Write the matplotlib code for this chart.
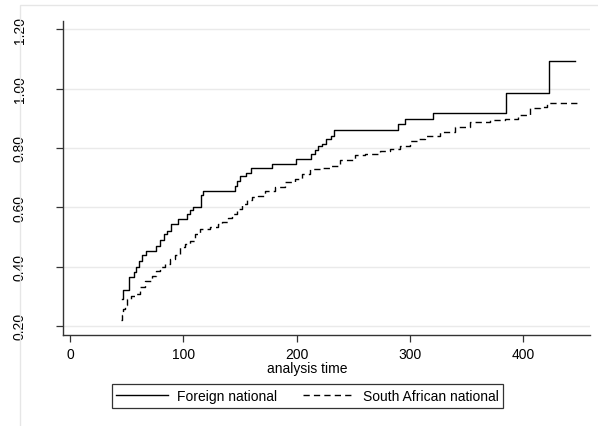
import matplotlib.pyplot as plt
from matplotlib.patches import Rectangle

plt.rcParams['font.family'] = ['Liberation Sans', 'DejaVu Sans']

# Kaplan-Meier style step curves: time where the estimate changes, value from then on
foreign_t = [45.9, 46.8, 52.1, 56.5, 58.3, 61.0, 63.6, 67.1, 76.0, 79.5, 83.0, 85.7,
             89.2, 95.4, 103.4, 106.0, 108.7, 115.7, 117.5, 145.8, 147.5, 150.2,
             155.5, 159.9, 178.4, 199.6, 212.9, 216.4, 219.0, 222.6, 226.1, 230.6,
             233.2, 289.8, 296.0, 320.7, 385.2, 423.1]
foreign_v = [0.29, 0.32, 0.364, 0.38, 0.40, 0.42, 0.44, 0.452, 0.47, 0.49, 0.51, 0.52,
             0.543, 0.56, 0.577, 0.59, 0.601, 0.641, 0.655, 0.672, 0.689, 0.706,
             0.715, 0.731, 0.745, 0.762, 0.779, 0.793, 0.807, 0.813, 0.830, 0.841,
             0.861, 0.880, 0.897, 0.917, 0.985, 1.094]
foreign_end = 446.1

sa_t = [45.0, 46.0, 46.8, 48.6, 50.4, 53.9, 57.4, 61.8, 66.3, 72.4, 76.0, 79.5, 83.9,
        88.3, 92.8, 97.2, 101.6, 106.0, 110.4, 114.8, 123.7, 130.7, 134.3, 139.6,
        143.1, 147.5, 151.9, 156.4, 160.8, 166.1, 172.3, 181.1, 189.9, 198.8, 205.0,
        212.0, 222.6, 229.7, 238.5, 251.8, 260.6, 273.9, 282.7, 291.5, 300.4, 307.4,
        313.6, 326.9, 340.1, 353.4, 371.0, 384.3, 395.8, 406.4, 415.2, 421.4]
sa_v = [0.22, 0.235, 0.256, 0.27, 0.29, 0.30, 0.307, 0.33, 0.352, 0.369, 0.385, 0.398,
        0.41, 0.425, 0.44, 0.465, 0.475, 0.487, 0.51, 0.526, 0.533, 0.545, 0.55, 0.565,
        0.577, 0.595, 0.61, 0.625, 0.635, 0.639, 0.655, 0.667, 0.684, 0.695, 0.712,
        0.728, 0.732, 0.74, 0.759, 0.777, 0.781, 0.79, 0.796, 0.807, 0.822, 0.83,
        0.839, 0.852, 0.869, 0.886, 0.895, 0.897, 0.911, 0.933, 0.937, 0.953]
sa_end = 450.5

xticks = [0, 100, 200, 300, 400]
yticks = [0.20, 0.40, 0.60, 0.80, 1.00, 1.20]
labels = ['Foreign national', 'South African national']

W, H = 598, 427
fig = plt.figure(figsize=(W / 100, H / 100), dpi=100)
ax = fig.add_axes([63 / W, 1 - 335.7 / H, (590 - 63) / W, (335.7 - 21.7) / H])

# faint outer frame of the graph region
fig.patches.append(Rectangle((20 / W, -0.1), 1.5, 1.1 - 6 / H, transform=fig.transFigure,
                             fill=False, edgecolor='#e6e6e6', lw=1.0))

ax.step(foreign_t + [foreign_end], foreign_v + [foreign_v[-1]], where='post',
        color='black', lw=1.0, label=labels[0])
ax.step(sa_t + [sa_end], sa_v + [sa_v[-1]], where='post',
        color='black', lw=1.0, linestyle=(0, (4.5, 3.0)), label=labels[1])

ax.set_xlim(-6.2, 459)
ax.set_ylim(0.17, 1.229)
ax.set_xticks(xticks)
ax.set_yticks(yticks)
ax.set_yticklabels(['%.2f' % v for v in yticks])
ax.grid(axis='y', color='#eaeaea', lw=1.0)
ax.set_axisbelow(True)

for s in ['top', 'right']:
    ax.spines[s].set_visible(False)
for s in ['left', 'bottom']:
    ax.spines[s].set_color('#333333')
    ax.spines[s].set_linewidth(1.0)

ax.tick_params(axis='both', length=5, width=0.9, color='#333333', labelsize=10)
ax.tick_params(axis='x', pad=3.5)
ax.tick_params(axis='y', pad=21, labelrotation=90)
for lab in ax.get_yticklabels():
    lab.set_va('center')

fig.text(307.5 / W, 1 - 369 / H, 'analysis time', ha='center', va='center', fontsize=10)

leg = fig.legend(loc='center', bbox_to_anchor=(307.5 / W, 1 - 397.3 / H), ncol=2,
                 fontsize=10, frameon=True, fancybox=False, edgecolor='black',
                 handlelength=3.75, handletextpad=0.58, columnspacing=1.87,
                 borderpad=0.35, borderaxespad=0)
leg.get_frame().set_linewidth(0.9)

fig.savefig('out.png', dpi=100)
